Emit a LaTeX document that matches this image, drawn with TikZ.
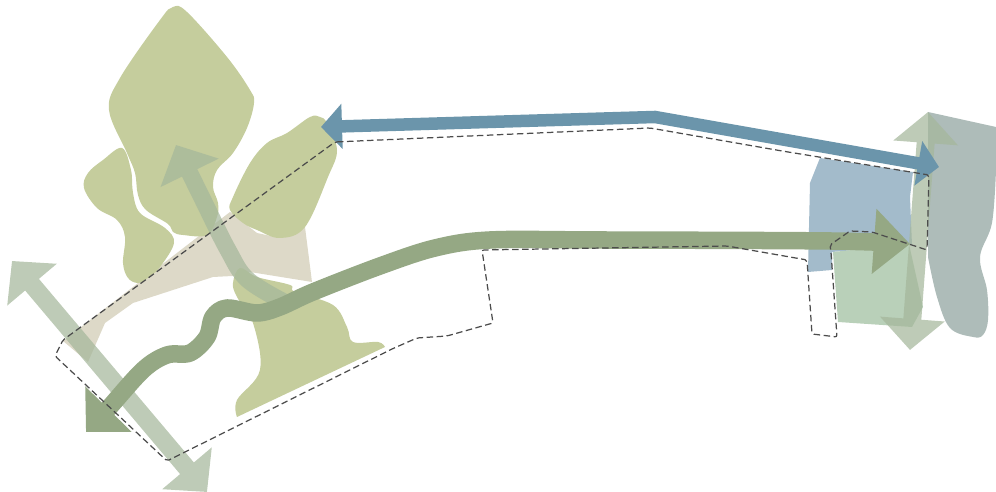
\documentclass[tikz,border=0pt]{standalone}
\usetikzlibrary{arrows.meta}

\definecolor{olive}{HTML}{C5CD9D}
\definecolor{sand}{HTML}{DDD9C8}
\definecolor{paleblue}{HTML}{A3BBCB}
\definecolor{palegreen}{HTML}{B9D0B9}
\definecolor{slate}{HTML}{AEBCB9}
\definecolor{riverblue}{HTML}{6B95AB}
\definecolor{pathgreen}{HTML}{95A884}
\definecolor{sage}{HTML}{A5B79B}

\begin{document}
\begin{tikzpicture}[
x=0.01cm, y=-0.01cm,
blob/.style={smooth cycle, tension=0.6},
axis/.style={line width=0.18cm, draw=sage, {Triangle[length=0.31cm, width=0.63cm]}-{Triangle[length=0.31cm, width=0.63cm]}},
route/.style={line width=0.175cm, draw=pathgreen, line join=round},
bluearrow/.style={line width=0.125cm, draw=riverblue, {Triangle[length=0.21cm, width=0.44cm]}-{Triangle[length=0.21cm, width=0.44cm]}},
site/.style={draw=black!70, line width=0.35pt, dash pattern=on 0.065cm off 0.035cm, rounded corners=0.02cm}
]
\useasboundingbox (0,0) rectangle (996,492);

% ground shapes
\fill[sand] (63,341) -- (230,212) -- (257,233) -- (280,238) -- (305,227) -- (312,282) -- (250,272) -- (233,276) -- (213,277) -- (133,303) -- (105,323) -- (88,362) -- cycle;
\fill[olive] plot[blob] coordinates {(173,7) (187,12) (227,57) (250,90) (254,103) (247,128) (233,153) (217,170) (213,187) (218,203) (217,217) (207,235) (183,235) (173,232) (168,224) (146,210) (138,195) (135,173) (127,153) (109,110) (120,78) (160,20)};
\fill[olive] plot[blob] coordinates {(122,148) (131,170) (133,193) (140,213) (165,228) (174,243) (160,267) (148,278) (138,283) (128,278) (123,263) (125,237) (117,220) (97,208) (84,188) (88,173) (103,160)};
\fill[olive] plot[blob] coordinates {(267,143) (287,133) (310,117) (320,117) (327,123) (337,150) (328,177) (305,227) (280,238) (257,230) (243,223) (230,210) (233,197) (250,163)};
\fill[olive] plot[smooth, tension=0.6] coordinates {(237,417) (237,400) (260,370) (253,323) (237,297) (233,283) (240,268) (257,277) (290,285) (295,292) (333,305) (347,327) (353,342) (378,342) (385,347)} -- cycle;
\fill[paleblue] (820,158) -- (913,172) -- (910,197) -- (912,245) -- (832,252) -- (832,270) -- (808,272) -- (810,183) -- cycle;
\fill[palegreen] (833,252) -- (838,322) -- (912,327) -- (923,307) -- (909,244) -- cycle;
\fill[slate] (928,112) -- (996,127) -- (996,170) -- plot[smooth, tension=0.6] coordinates {(996,170) (992,223) (980,257) (987,290) (988,320) (983,335) (973,337) (950,328) (937,297) (928,257)} -- cycle;

% arrows
\coordinate (westNorth) at (12,261);
\coordinate (westSouth) at (207,492);
\coordinate (eastNorth) at (928,112);
\coordinate (eastSouth) at (910,350);
\coordinate (hillTip) at (176,145);
\coordinate (hillKnee) at (228,250);
\coordinate (hillFoot) at (288,304);
\coordinate (riverWest) at (321,127);
\coordinate (riverBend) at (655,117);
\coordinate (riverEast) at (939,167);
\coordinate (routeSouth) at (86,432);
\coordinate (routeEast) at (910,244);

\begin{scope}[transparency group, opacity=0.72]
\draw[axis] (westNorth) -- (westSouth);
\end{scope}
\begin{scope}[transparency group, opacity=0.72]
\draw[axis] (eastNorth) -- (eastSouth);
\end{scope}
\begin{scope}[transparency group, opacity=0.72]
\draw[line width=0.17cm, draw=sage, -{Triangle[length=0.31cm, width=0.63cm]}] plot[smooth, tension=0.6] coordinates {(hillFoot) (248,280) (hillKnee) (203,200) (hillTip)};
\end{scope}
\draw[bluearrow] (riverWest) -- (riverBend) -- (riverEast);
\draw[route, {Triangle[length=0.32cm, width=0.63cm]}-{Triangle[length=0.36cm, width=0.63cm]}] plot[smooth, tension=0.55] coordinates {(routeSouth) (107,410) (143,370) (167,355) (190,353) (207,337) (213,317) (227,308) (257,313) (280,307) (313,292) (380,266) (435,248) (490,240) (600,240) (830,241) (routeEast)};

% site outline
\draw[site] (335,142) -- (650,128) -- (782,151) -- (929,175) -- (927,250) -- (872,232) -- (850,231) -- (830,245) -- (831,252) -- (837,337) -- (812,334) -- (807,260) -- (727,246) -- (482,250) -- (493,323) -- (447,336) -- (417,338) -- (392,349) -- (167,461) -- (55,356) -- (63,340) -- cycle;

\end{tikzpicture}
\end{document}
